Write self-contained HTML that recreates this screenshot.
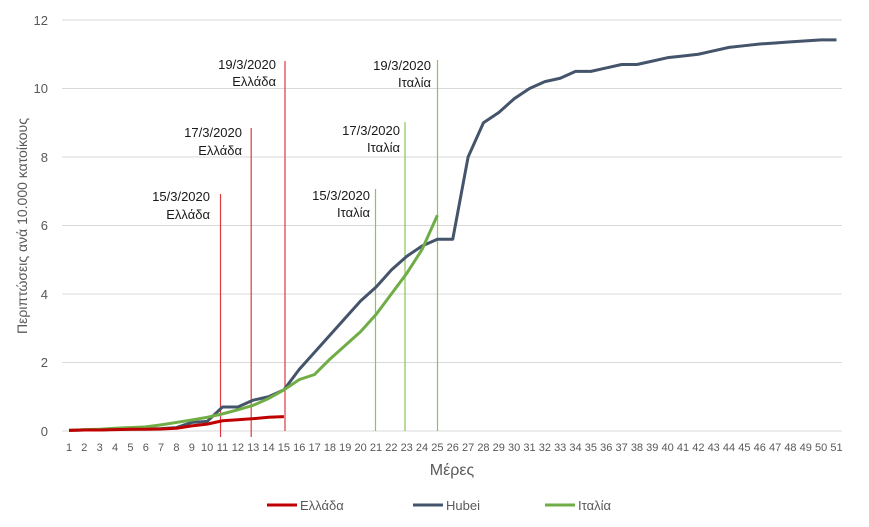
<!DOCTYPE html>
<html><head><meta charset="utf-8"><style>body{margin:0;background:#fff}</style></head><body>
<svg width="869" height="522" xmlns="http://www.w3.org/2000/svg" font-family="Liberation Sans, DejaVu Sans, sans-serif">
<g stroke="#d9d9d9" stroke-width="1">
<line x1="62" x2="842" y1="431" y2="431"/><line x1="62" x2="842" y1="362.5" y2="362.5"/><line x1="62" x2="842" y1="294" y2="294"/><line x1="62" x2="842" y1="225.5" y2="225.5"/><line x1="62" x2="842" y1="157" y2="157"/><line x1="62" x2="842" y1="88.5" y2="88.5"/><line x1="62" x2="842" y1="20" y2="20"/>
</g>
<g font-size="13" fill="#595959" text-anchor="end">
<text x="48" y="436">0</text><text x="48" y="367">2</text><text x="48" y="299">4</text><text x="48" y="230">6</text><text x="48" y="162">8</text><text x="48" y="93">10</text><text x="48" y="25">12</text>
</g>
<text transform="translate(27,226) rotate(-90)" font-size="14" fill="#595959" text-anchor="middle">Περιπτώσεις ανά 10.000 κατοίκους</text>
<text x="452" y="475" font-size="16" fill="#595959" text-anchor="middle">Μέρες</text>
<g id="xt" font-size="11" fill="#595959" text-anchor="middle"></g>
<g stroke-width="1.2">
<line x1="220.5" x2="220.5" y1="194" y2="437" stroke="#e0393e"/>
<line x1="251.2" x2="251.2" y1="128" y2="437" stroke="#e0393e"/>
<line x1="285" x2="285" y1="61" y2="431" stroke="#e0393e"/>
<line x1="375.5" x2="375.5" y1="189" y2="431" stroke="#8cc35a"/>
<line x1="405" x2="405" y1="122" y2="431" stroke="#8cc35a"/>
<line x1="437.5" x2="437.5" y1="60" y2="431" stroke="#8cc35a"/>
</g>
<g font-size="13" fill="#1a1a1a" text-anchor="end">
<text x="210" y="201">15/3/2020</text><text x="210" y="219">Ελλάδα</text>
<text x="242" y="137">17/3/2020</text><text x="242" y="155">Ελλάδα</text>
<text x="276" y="69">19/3/2020</text><text x="276" y="86">Ελλάδα</text>
<text x="370" y="200">15/3/2020</text><text x="370" y="217">Ιταλία</text>
<text x="400" y="135">17/3/2020</text><text x="400" y="152">Ιταλία</text>
<text x="431" y="70">19/3/2020</text><text x="431" y="87">Ιταλία</text>
</g>
<polyline id="h" fill="none" stroke="#44546a" stroke-width="3" stroke-linejoin="round"/>
<polyline id="i" fill="none" stroke="#70ad47" stroke-width="3" stroke-linejoin="round"/>
<polyline id="g" fill="none" stroke="#c00000" stroke-width="3" stroke-linejoin="round"/>
<g font-size="13" fill="#595959">
<line x1="267" x2="297" y1="505" y2="505" stroke="#c00000" stroke-width="3"/><text x="300" y="510">Ελλάδα</text>
<line x1="413" x2="443" y1="505" y2="505" stroke="#44546a" stroke-width="3"/><text x="446" y="510">Hubei</text>
<line x1="545" x2="575" y1="505" y2="505" stroke="#70ad47" stroke-width="3"/><text x="578" y="510">Ιταλία</text>
</g>
</svg>
<script>
var X=d=>69+(d-1)*15.35,Y=v=>431-v*34.25;
var H=[.02,.03,.03,.05,.05,.06,.07,.1,.25,.28,.7,.7,.9,1,1.2,1.8,2.3,2.8,3.3,3.8,4.2,4.7,5.1,5.4,5.6,5.6,8,9,9.3,9.7,10,10.2,10.3,10.5,10.5,10.6,10.7,10.7,10.8,10.9,10.95,11,11.1,11.2,11.25,11.3,11.33,11.36,11.39,11.42,11.42];
var I=[.02,.04,.05,.08,.1,.12,.18,.25,.32,.4,.5,.62,.75,.95,1.2,1.5,1.65,2.1,2.5,2.9,3.4,4,4.6,5.3,6.3];
var G=[.02,.03,.03,.04,.05,.05,.06,.08,.15,.2,.3,.33,.36,.4,.42];
function p(a){return a.map((v,k)=>X(k+1)+","+Y(v)).join(" ")}
document.getElementById("h").setAttribute("points",p(H));
document.getElementById("i").setAttribute("points",p(I));
document.getElementById("g").setAttribute("points",p(G));
var xt=document.getElementById("xt"),s="";
for(var d=1;d<=51;d++)s+='<text x="'+X(d)+'" y="451">'+d+'</text>';
xt.innerHTML=s;
</script>
</body></html>
